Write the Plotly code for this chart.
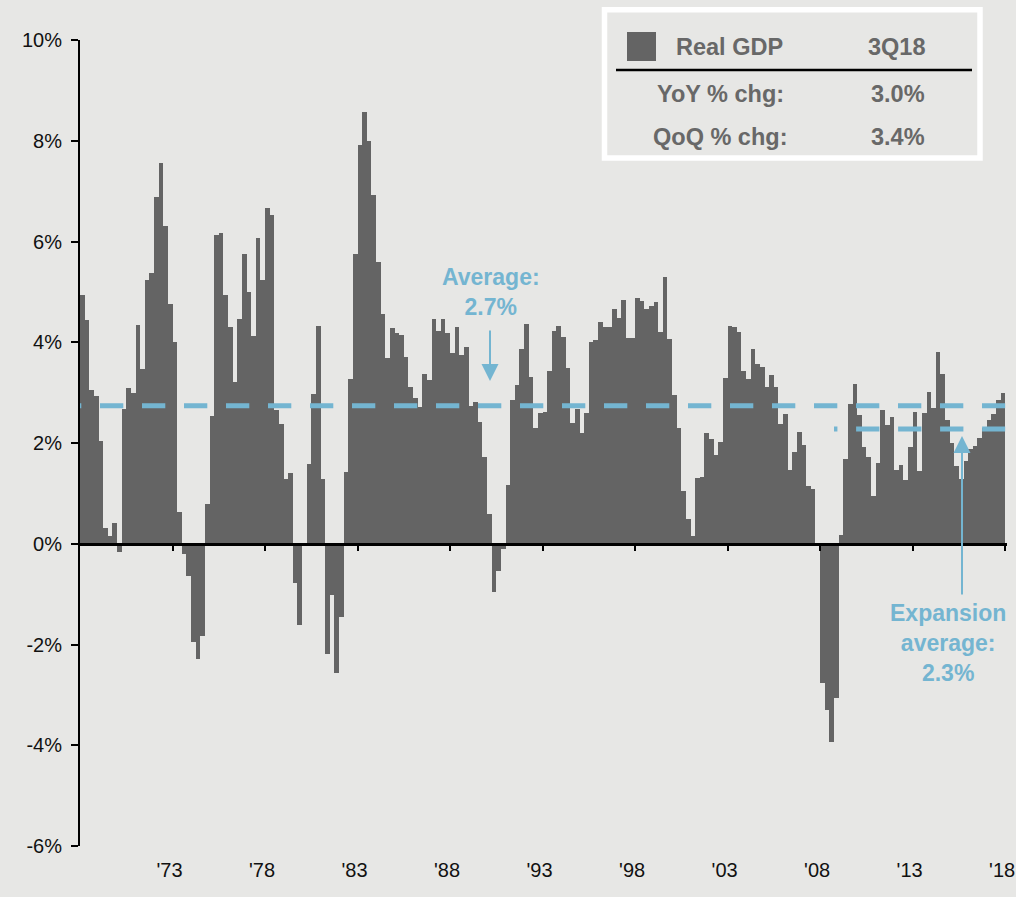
import plotly.graph_objects as go

# ---------------- data ----------------
START_YEAR = 1968.75          # 4Q68 (first quarter shown)
QUARTER = 0.25
gdp_yoy = [
    4.94, 4.45, 3.06, 2.94, 2.03, 0.31, 0.16, 0.41, -0.17, 2.68,
    3.10, 3.00, 4.35, 3.46, 5.24, 5.37, 6.88, 7.55, 6.30, 4.76,
    4.01, 0.63, -0.21, -0.64, -1.95, -2.29, -1.84, 0.78, 2.54, 6.13,
    6.16, 4.94, 4.30, 3.21, 4.46, 5.75, 5.00, 4.12, 6.07, 5.24,
    6.66, 6.52, 2.65, 2.38, 1.28, 1.41, -0.78, -1.62, -0.04, 1.59,
    2.97, 4.32, 1.29, -2.19, -1.01, -2.56, -1.45, 1.43, 3.28, 5.76,
    7.92, 8.57, 8.00, 6.92, 5.59, 4.57, 3.69, 4.28, 4.19, 4.15,
    3.71, 3.12, 2.90, 2.71, 3.36, 3.26, 4.47, 4.23, 4.47, 4.19,
    3.79, 4.31, 3.74, 3.90, 2.74, 2.81, 2.41, 1.72, 0.60, -0.95,
    -0.54, -0.11, 1.16, 2.85, 3.16, 3.87, 4.37, 3.31, 2.29, 2.60,
    2.61, 3.43, 4.23, 4.33, 4.10, 3.48, 2.40, 2.68, 2.20, 2.59,
    4.00, 4.05, 4.41, 4.31, 4.30, 4.67, 4.48, 4.84, 4.09, 4.09,
    4.87, 4.82, 4.66, 4.72, 4.80, 4.20, 5.30, 4.07, 2.96, 2.30,
    1.05, 0.50, 0.15, 1.31, 1.33, 2.20, 2.08, 1.77, 2.02, 3.29,
    4.32, 4.30, 4.20, 3.43, 3.28, 3.87, 3.56, 3.50, 3.11, 3.35,
    3.11, 2.37, 2.58, 1.47, 1.82, 2.22, 1.96, 1.14, 1.08, -0.05,
    -2.77, -3.30, -3.93, -3.06, 0.17, 1.69, 2.78, 3.17, 2.55, 1.93,
    1.73, 0.94, 1.60, 2.65, 2.35, 2.52, 1.46, 1.56, 1.26, 1.92,
    2.61, 1.45, 2.59, 3.02, 2.69, 3.80, 3.36, 2.45, 2.00, 1.55,
    1.29, 1.65, 1.88, 1.95, 2.10, 2.29, 2.46, 2.58, 2.86, 3.00,
]
AVERAGE = 2.74                 # long-run average ("2.7%")
EXPANSION_AVERAGE = 2.28       # current expansion average ("2.3%")
EXPANSION_START_INDEX = 163    # 3Q09

x_ticktext = ["'73", "'78", "'83", "'88", "'93", "'98", "'03", "'08", "'13", "'18"]
y_tickvals = [-6, -4, -2, 0, 2, 4, 6, 8, 10]
y_ticktext = ["-6%", "-4%", "-2%", "0%", "2%", "4%", "6%", "8%", "10%"]

legend_header = ["Real GDP", "3Q18"]
legend_rows = [["YoY % chg:", "3.0%"], ["QoQ % chg:", "3.4%"]]

# ---------------- derived ----------------
n = len(gdp_yoy)
x_left = [START_YEAR + i * QUARTER for i in range(n)]
x_center = [v + QUARTER / 2 for v in x_left]
x_end = x_left[-1] + QUARTER
x_tickvals = [x_left[0] + 5 * (k + 1) for k in range(len(x_ticktext))]
RANGE_PAD = 0.1                # small pad so the last tick ('18) is kept

# ---------------- style ----------------
W, H = 1016, 897
ML, MR, MT, MB = 80, 9, 40, 51
BG = "#e7e7e5"
BAR = "#646464"
BLUE = "#74b5d1"
TXT_GRAY = "#686868"
FONT = "Liberation Sans, Arial, sans-serif"


def px_x(px):
    return (px - ML) / (W - ML - MR)


def px_y(py):
    return (H - MB - py) / (H - MT - MB)


fig = go.Figure()
fig.add_trace(go.Bar(
    x=x_center, y=gdp_yoy, width=[QUARTER] * n,
    marker=dict(color=BAR, line=dict(width=0)),
    hoverinfo="skip", showlegend=False,
))
# average dashed line
fig.add_trace(go.Scatter(
    x=[x_left[0], x_end], y=[AVERAGE, AVERAGE], mode="lines",
    line=dict(color=BLUE, width=5, dash="1.3px,18.7px,22px,0px"),
    xaxis="x2", showlegend=False, hoverinfo="skip",
))
# expansion average dashed line
fig.add_trace(go.Scatter(
    x=[x_left[EXPANSION_START_INDEX], x_end], y=[EXPANSION_AVERAGE, EXPANSION_AVERAGE],
    mode="lines",
    line=dict(color=BLUE, width=5, dash="3.4px,18.7px,19.9px,0px"),
    xaxis="x2", showlegend=False, hoverinfo="skip",
))

ymin, ymax = -6, 10
fig.update_layout(
    width=W, height=H,
    margin=dict(l=ML, r=MR, t=MT, b=MB, pad=0, autoexpand=False),
    paper_bgcolor=BG, plot_bgcolor=BG,
    bargap=0,
    font=dict(family=FONT, size=20, color="#111111"),
    xaxis=dict(
        range=[x_left[0], x_end + RANGE_PAD], tickvals=x_tickvals, ticktext=x_ticktext,
        showline=False, showgrid=False, zeroline=False, ticks="",
        ticklabelstandoff=10, ticklabelshift=-3, ticklabeloverflow="allow",
        automargin=False,
        tickfont=dict(family=FONT, size=20, color="#111111"),
    ),
    xaxis2=dict(
        overlaying="x", matches="x", anchor="free",
        position=(0 - ymin) / (ymax - ymin),
        showline=True, linecolor="black", linewidth=2.5,
        ticks="outside", ticklen=5, tickwidth=1.5, tickcolor="black",
        tickvals=x_tickvals, showticklabels=False, showgrid=False, zeroline=False,
        automargin=False,
    ),
    yaxis=dict(
        range=[ymin, ymax], tickvals=y_tickvals, ticktext=y_ticktext,
        showline=True, linecolor="black", linewidth=2,
        ticks="outside", ticklen=7, tickwidth=1.5, tickcolor="black",
        ticklabelstandoff=5, automargin=False,
        showgrid=False, zeroline=False,
        tickfont=dict(family=FONT, size=20, color="#111111"),
    ),
)

shapes = []
# legend box frame
shapes.append(dict(type="rect", xref="paper", yref="paper",
                   x0=px_x(604.5), x1=px_x(980), y0=px_y(158), y1=px_y(9.7),
                   line=dict(color="white", width=5.5), fillcolor=BG, layer="above"))
# legend swatch
shapes.append(dict(type="rect", xref="paper", yref="paper",
                   x0=px_x(627), x1=px_x(656), y0=px_y(61), y1=px_y(32),
                   line=dict(width=0), fillcolor=BAR, layer="above"))
# legend rule
shapes.append(dict(type="line", xref="paper", yref="paper",
                   x0=px_x(616), x1=px_x(972), y0=px_y(70), y1=px_y(70),
                   line=dict(color="black", width=2.5), layer="above"))
fig.update_layout(shapes=shapes)

ann = []
bold = dict(family=FONT, size=23.5, color=TXT_GRAY)
ann.append(dict(text="<b>%s</b>" % legend_header[0], x=px_x(729), y=px_y(47)))
ann.append(dict(text="<b>%s</b>" % legend_header[1], x=px_x(897), y=px_y(47)))
for row, py in zip(legend_rows, [93.5, 137]):
    ann.append(dict(text="<b>%s</b>" % row[0], x=px_x(720), y=px_y(py)))
    ann.append(dict(text="<b>%s</b>" % row[1], x=px_x(898), y=px_y(py)))
for a in ann:
    a.update(xref="paper", yref="paper", xanchor="center", yanchor="middle",
             showarrow=False, font=bold)

blue_font = dict(family=FONT, size=23, color=BLUE)
ann.append(dict(text="<b>Average:<br>2.7%</b>", x=px_x(491), y=px_y(292),
                xref="paper", yref="paper", xanchor="center", yanchor="middle",
                showarrow=False, font=blue_font))
ann.append(dict(text="<b>Expansion<br>average:<br>2.3%</b>", x=px_x(948), y=px_y(643),
                xref="paper", yref="paper", xanchor="center", yanchor="middle",
                showarrow=False, font=blue_font))
# arrows
ann.append(dict(text="", x=px_x(490), y=px_y(381), xref="paper", yref="paper",
                ax=0, ay=-52, showarrow=True, arrowhead=2, arrowsize=1.7,
                arrowwidth=2, arrowcolor=BLUE))
ann.append(dict(text="", x=px_x(962), y=px_y(436), xref="paper", yref="paper",
                ax=0, ay=160, showarrow=True, arrowhead=2, arrowsize=1.7,
                arrowwidth=2, arrowcolor=BLUE))
fig.update_layout(annotations=ann)

fig.write_html(
    "out.html",
    config={"displayModeBar": False},
    post_script="document.body.style.margin='0';document.body.style.padding='0';"
                "document.body.style.background='%s';"
                "document.documentElement.style.overflow='hidden';" % BG,
)
